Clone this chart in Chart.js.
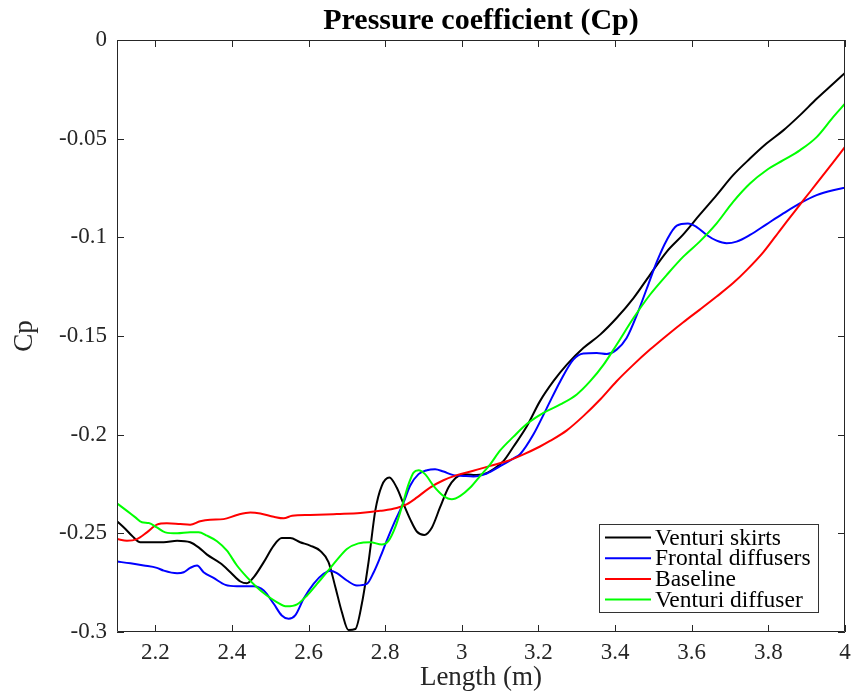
<!DOCTYPE html>
<html>
<head>
<meta charset="utf-8">
<script src="https://cdn.jsdelivr.net/npm/chart.js@4.4.0/dist/chart.umd.min.js"></script>
<style>
  html, body { margin: 0; padding: 0; background: #ffffff; }
  #wrap { width: 851px; height: 691px; }
</style>
</head>
<body>
<div id="wrap"><canvas id="c" width="851" height="691"></canvas></div>
<script>
// ---- data ----
const seriesLabels = ["Venturi skirts", "Frontal diffusers", "Baseline", "Venturi diffuser"];
const seriesColors = ["#000000", "#0000ff", "#ff0000", "#00ff00"];

const skirtsX = [2.100,2.122,2.139,2.161,2.196,2.222,2.257,2.291,2.313,2.335,2.370,2.396,2.422,2.439,2.457,2.483,2.509,2.530,2.552,2.578,2.604,2.630,2.652,2.670,2.687,2.704,2.722,2.739,2.757,2.774,2.791,2.811,2.830,2.848,2.865,2.883,2.902,2.922,2.943,2.965,2.983,3.004,3.030,3.057,3.083,3.109,3.135,3.170,3.204,3.239,3.274,3.317,3.361,3.404,3.448,3.491,3.535,3.578,3.621,3.665,3.708,3.752,3.795,3.839,3.882,3.926,3.969,4.000];
const skirtsY = [-0.2439,-0.2478,-0.2512,-0.2545,-0.2545,-0.2545,-0.2537,-0.2545,-0.2571,-0.2608,-0.2652,-0.2697,-0.2744,-0.2753,-0.2722,-0.2646,-0.2562,-0.2524,-0.2524,-0.2545,-0.2562,-0.2588,-0.2646,-0.2773,-0.2900,-0.2990,-0.2985,-0.2857,-0.2638,-0.2386,-0.2259,-0.2217,-0.2268,-0.2352,-0.2428,-0.2492,-0.2508,-0.2470,-0.2369,-0.2268,-0.2221,-0.2200,-0.2204,-0.2200,-0.2175,-0.2133,-0.2060,-0.1956,-0.1830,-0.1729,-0.1645,-0.1561,-0.1493,-0.1409,-0.1308,-0.1190,-0.1072,-0.0985,-0.0885,-0.0786,-0.0685,-0.0601,-0.0525,-0.0458,-0.0382,-0.0298,-0.0222,-0.0167];

const frontalX = [2.100,2.135,2.170,2.204,2.222,2.257,2.274,2.291,2.309,2.326,2.352,2.383,2.413,2.457,2.483,2.509,2.530,2.548,2.565,2.587,2.613,2.639,2.657,2.674,2.700,2.726,2.752,2.770,2.787,2.804,2.826,2.848,2.865,2.887,2.909,2.930,2.952,2.978,3.004,3.030,3.065,3.100,3.135,3.152,3.187,3.222,3.257,3.291,3.317,3.352,3.378,3.404,3.430,3.457,3.483,3.509,3.535,3.561,3.590,3.613,3.639,3.665,3.691,3.717,3.752,3.795,3.839,3.882,3.926,3.969,4.000];
const frontalY = [-0.2643,-0.2652,-0.2663,-0.2675,-0.2689,-0.2702,-0.2697,-0.2675,-0.2663,-0.2697,-0.2726,-0.2761,-0.2768,-0.2768,-0.2790,-0.2857,-0.2916,-0.2933,-0.2916,-0.2832,-0.2756,-0.2705,-0.2689,-0.2702,-0.2739,-0.2764,-0.2756,-0.2697,-0.2621,-0.2537,-0.2436,-0.2343,-0.2259,-0.2200,-0.2180,-0.2175,-0.2187,-0.2205,-0.2209,-0.2212,-0.2197,-0.2160,-0.2120,-0.2099,-0.1998,-0.1864,-0.1729,-0.1620,-0.1589,-0.1586,-0.1591,-0.1569,-0.1510,-0.1392,-0.1258,-0.1123,-0.1013,-0.0941,-0.0930,-0.0948,-0.0988,-0.1017,-0.1030,-0.1022,-0.0988,-0.0934,-0.0879,-0.0828,-0.0786,-0.0761,-0.0749];

const baselineX = [2.100,2.126,2.152,2.178,2.204,2.230,2.265,2.291,2.317,2.343,2.378,2.413,2.448,2.474,2.509,2.535,2.557,2.604,2.674,2.735,2.787,2.830,2.857,2.883,2.917,2.952,2.987,3.030,3.074,3.117,3.161,3.204,3.230,3.274,3.317,3.361,3.404,3.448,3.491,3.535,3.578,3.622,3.665,3.708,3.744,3.787,3.831,3.857,3.891,3.926,3.969,4.000];
const baselineY = [-0.2529,-0.2537,-0.2529,-0.2495,-0.2456,-0.2449,-0.2453,-0.2456,-0.2439,-0.2431,-0.2428,-0.2407,-0.2394,-0.2399,-0.2416,-0.2424,-0.2411,-0.2407,-0.2402,-0.2397,-0.2386,-0.2372,-0.2352,-0.2318,-0.2268,-0.2231,-0.2205,-0.2183,-0.2158,-0.2135,-0.2100,-0.2060,-0.2032,-0.1978,-0.1906,-0.1822,-0.1729,-0.1645,-0.1569,-0.1497,-0.1430,-0.1365,-0.1300,-0.1232,-0.1165,-0.1075,-0.0963,-0.0898,-0.0813,-0.0727,-0.0620,-0.0542];

const diffuserX = [2.100,2.126,2.148,2.165,2.183,2.204,2.226,2.257,2.291,2.313,2.335,2.361,2.387,2.413,2.439,2.465,2.491,2.517,2.543,2.570,2.596,2.622,2.648,2.674,2.700,2.730,2.761,2.791,2.809,2.826,2.843,2.861,2.874,2.887,2.904,2.926,2.952,2.974,2.996,3.022,3.048,3.074,3.100,3.135,3.170,3.213,3.257,3.300,3.335,3.370,3.404,3.448,3.491,3.535,3.578,3.622,3.665,3.708,3.752,3.795,3.839,3.882,3.926,3.969,4.000];
const diffuserY = [-0.2348,-0.2386,-0.2419,-0.2444,-0.2448,-0.2470,-0.2495,-0.2500,-0.2495,-0.2495,-0.2512,-0.2540,-0.2588,-0.2663,-0.2722,-0.2773,-0.2815,-0.2848,-0.2870,-0.2860,-0.2815,-0.2756,-0.2697,-0.2635,-0.2579,-0.2551,-0.2545,-0.2557,-0.2537,-0.2470,-0.2369,-0.2251,-0.2192,-0.2180,-0.2200,-0.2259,-0.2310,-0.2327,-0.2310,-0.2268,-0.2209,-0.2150,-0.2080,-0.2010,-0.1945,-0.1889,-0.1847,-0.1796,-0.1729,-0.1645,-0.1544,-0.1409,-0.1291,-0.1190,-0.1098,-0.1019,-0.0929,-0.0820,-0.0727,-0.0660,-0.0609,-0.0559,-0.0492,-0.0391,-0.0323];

const xTickValues = [2.2, 2.4, 2.6, 2.8, 3.0, 3.2, 3.4, 3.6, 3.8, 4.0];
const xTickLabels = ["2.2", "2.4", "2.6", "2.8", "3", "3.2", "3.4", "3.6", "3.8", "4"];
const yTickValues = [-0.3, -0.25, -0.2, -0.15, -0.1, -0.05, 0];
const yTickLabels = ["-0.3", "-0.25", "-0.2", "-0.15", "-0.1", "-0.05", "0"];

const titleText = "Pressure coefficient (Cp)";
const xTitle = "Length (m)";
const yTitle = "Cp";

// ---- build ----
function pts(xs, ys) { return xs.map((x, i) => ({ x: x, y: ys[i] })); }
const allX = [skirtsX, frontalX, baselineX, diffuserX];
const allY = [skirtsY, frontalY, baselineY, diffuserY];

const SERIF = "'Liberation Serif', 'DejaVu Serif', serif";
const AXIS_COLOR = "#262626";

const frameAndLegend = {
  id: "frameAndLegend",
  afterDraw(chart) {
    const ctx = chart.ctx;
    const a = chart.chartArea;
    const xs = chart.scales.x, ys = chart.scales.y;
    ctx.save();
    ctx.strokeStyle = AXIS_COLOR;
    ctx.lineWidth = 1;
    ctx.beginPath();
    ctx.rect(Math.round(a.left) + 0.5, Math.round(a.top) + 0.5,
             Math.round(a.right - a.left) - 1, Math.round(a.bottom - a.top) - 1);
    ctx.stroke();
    const tl = 7;
    ctx.beginPath();
    xs.ticks.forEach(t => {
      const px = Math.round(xs.getPixelForValue(t.value)) + 0.5;
      ctx.moveTo(px, a.bottom); ctx.lineTo(px, a.bottom - tl);
      ctx.moveTo(px, a.top); ctx.lineTo(px, a.top + tl);
    });
    ys.ticks.forEach(t => {
      const py = Math.round(ys.getPixelForValue(t.value)) + 0.5;
      ctx.moveTo(a.left, py); ctx.lineTo(a.left + tl, py);
      ctx.moveTo(a.right, py); ctx.lineTo(a.right - tl, py);
    });
    ctx.stroke();

    // legend box (lower right, inside axes)
    const bx = 599.5, by = 524.5, bw = 219, bh = 88;
    ctx.fillStyle = "#ffffff";
    ctx.fillRect(bx, by, bw, bh);
    ctx.strokeStyle = "#333333";
    ctx.lineWidth = 1;
    ctx.strokeRect(bx, by, bw, bh);
    ctx.font = "23.5px " + SERIF;
    ctx.textBaseline = "middle";
    ctx.textAlign = "left";
    chart.data.datasets.forEach((ds, i) => {
      const cy = 537.5 + i * 20.7;
      ctx.strokeStyle = ds.borderColor;
      ctx.lineWidth = 2;
      ctx.beginPath();
      ctx.moveTo(605, cy); ctx.lineTo(651, cy);
      ctx.stroke();
      ctx.fillStyle = "#000000";
      ctx.fillText(ds.label, 655, cy + 1);
    });
    ctx.restore();
  }
};

new Chart(document.getElementById("c"), {
  type: "line",
  data: {
    datasets: seriesLabels.map((lab, i) => ({
      label: lab,
      data: pts(allX[i], allY[i]),
      borderColor: seriesColors[i],
      backgroundColor: seriesColors[i],
      borderWidth: 2,
      pointRadius: 0,
      fill: false,
      cubicInterpolationMode: "monotone",
      order: 4 - i
    }))
  },
  options: {
    responsive: false,
    animation: false,
    devicePixelRatio: 1,
    layout: { padding: { left: 0, right: 6, top: 0, bottom: 0 } },
    plugins: {
      legend: { display: false },
      tooltip: { enabled: false },
      title: {
        display: true,
        text: titleText,
        fullSize: false,
        color: "#000000",
        font: { family: SERIF, size: 30, weight: "bold", lineHeight: 1.0 },
        padding: { top: 6, bottom: 4 }
      }
    },
    scales: {
      x: {
        type: "linear",
        min: 2.1,
        max: 4.0,
        afterBuildTicks: (s) => { s.ticks = xTickValues.map(v => ({ value: v })); },
        afterFit: (s) => { s.height = 59; s.paddingRight = 0; s.paddingLeft = 0; },
        grid: { display: false, drawTicks: false },
        border: { display: false },
        ticks: {
          color: AXIS_COLOR,
          font: { family: SERIF, size: 23, lineHeight: 1.2 },
          padding: 7,
          maxRotation: 0,
          autoSkip: false,
          callback: (v, i) => xTickLabels[i]
        },
        title: {
          display: true,
          text: xTitle,
          color: AXIS_COLOR,
          font: { family: SERIF, size: 27, lineHeight: 1.0 },
          padding: { top: 0, bottom: 0 }
        }
      },
      y: {
        type: "linear",
        min: -0.3,
        max: 0,
        afterBuildTicks: (s) => { s.ticks = yTickValues.map(v => ({ value: v })); },
        afterFit: (s) => { s.width = 117; },
        grid: { display: false, drawTicks: false },
        border: { display: false },
        ticks: {
          color: AXIS_COLOR,
          font: { family: SERIF, size: 23 },
          padding: 10,
          autoSkip: false,
          callback: (v, i) => yTickLabels[i]
        },
        title: {
          display: true,
          text: yTitle,
          color: AXIS_COLOR,
          font: { family: SERIF, size: 27, lineHeight: 1.0 },
          padding: { top: 11, bottom: 0 }
        }
      }
    }
  },
  plugins: [frameAndLegend]
});
</script>
</body>
</html>
